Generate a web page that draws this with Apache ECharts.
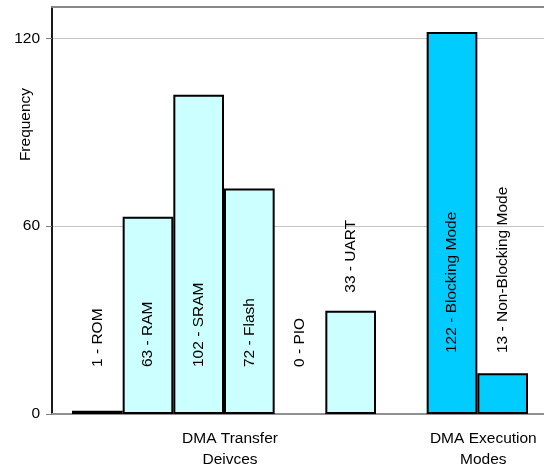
<!DOCTYPE html>
<html>
<head>
<meta charset="utf-8">
<script src="https://cdn.jsdelivr.net/npm/echarts@6/dist/echarts.min.js"></script>
<style>
  html, body { margin: 0; background: #fff; }
  #main { width: 544px; height: 466px; }
</style>
</head>
<body>
<div id="main"></div>
<script>
const transferDevices = ['ROM', 'RAM', 'SRAM', 'Flash', 'PIO', 'UART'];
const transferCounts = [1, 63, 102, 72, 0, 33];
const executionModes = ['Blocking Mode', 'Non-Blocking Mode'];
const executionCounts = [122, 13];
const groupNames = ['DMA Transfer\nDeivces', 'DMA Execution\nModes'];
const yTicks = [0, 60, 120];

const font = '"Liberation Sans", Arial, sans-serif';
const fontSize = 15.5;
const yMax = 130;
const pxPerUnit = 407 / yMax;

// one empty slot between the two groups
const slots = transferDevices.concat([''], executionModes);
const executionStart = transferDevices.length + 1;
const groupCenters = [
  (transferDevices.length - 1) / 2,
  executionStart + (executionModes.length - 1) / 2
];

function labelFor(value, base) {
  const h = value * pxPerUnit;
  if (h > base + 70 || h < base - 20) {
    return { position: 'insideBottom', distance: base };
  }
  return { position: 'top', distance: 18 };
}

function makeData(counts, start, base) {
  return slots.map((s, i) => {
    const k = i - start;
    if (k < 0 || k >= counts.length) return '-';
    const item = { value: counts[k], label: labelFor(counts[k], base) };
    // a zero bar has no outline
    if (counts[k] === 0) item.itemStyle = { borderWidth: 0 };
    return item;
  });
}

function barSeries(data, color) {
  return {
    type: 'bar',
    xAxisIndex: 2,
    yAxisIndex: 1,
    data: data,
    barCategoryGap: 0,
    barGap: '-100%',
    itemStyle: { color: color, borderColor: '#000', borderWidth: 2 },
    label: {
      show: true,
      rotate: 90,
      align: 'left',
      verticalAlign: 'middle',
      color: '#000',
      fontFamily: font,
      fontSize: fontSize,
      formatter: p => p.value + ' - ' + p.name
    }
  };
}

const textStyle = { color: '#000', fontFamily: font, fontSize: fontSize };
const hidden = { axisLine: { show: false }, axisTick: { show: false }, axisLabel: { show: false }, splitLine: { show: false } };

const option = {
  animation: false,
  grid: [
    { left: 52, right: 0, top: 7, bottom: 52, outerBoundsMode: 'none' },
    { left: 72, right: 16, top: 7, bottom: 52, outerBoundsMode: 'none' }
  ],
  xAxis: [{
    // frame: bottom line
    type: 'value', gridIndex: 0, min: 0, max: 1, position: 'bottom',
    ...hidden,
    axisLine: { show: true, onZero: false, lineStyle: { color: '#909090', width: 2 } }
  }, {
    // frame: top line
    type: 'value', gridIndex: 0, min: 0, max: 1, position: 'top',
    ...hidden,
    axisLine: { show: true, onZero: false, lineStyle: { color: '#888', width: 2 } }
  }, {
    // bars
    type: 'category', gridIndex: 1, data: slots, position: 'bottom',
    ...hidden
  }, {
    // group labels
    type: 'value', gridIndex: 1, min: -0.5, max: slots.length - 0.5, position: 'bottom',
    ...hidden,
    axisLabel: {
      show: true,
      customValues: groupCenters,
      formatter: v => groupNames[groupCenters.indexOf(v)],
      ...textStyle,
      lineHeight: 21,
      margin: 14,
      padding: [0, 0, 0, 12]
    }
  }],
  yAxis: [{
    type: 'value', gridIndex: 0,
    min: 0, max: yMax, interval: 60,
    name: 'Frequency',
    nameLocation: 'middle',
    nameGap: 18,
    nameMoveOverlap: false,
    nameTextStyle: { ...textStyle, padding: [0, 0, 0, 172] },
    axisLine: { show: true, onZero: false, lineStyle: { color: '#1a1a1a', width: 2 } },
    axisTick: { show: true, length: 6, customValues: yTicks, lineStyle: { color: '#808080' } },
    axisLabel: { customValues: yTicks, margin: 12, ...textStyle },
    splitLine: { show: true, lineStyle: { color: '#c4c4c4', width: 1 } }
  }, {
    type: 'value', gridIndex: 1, min: 0, max: yMax,
    ...hidden
  }],
  series: [
    barSeries(makeData(transferCounts, 0, 47), '#CCFFFF'),
    barSeries(makeData(executionCounts, executionStart, 61), '#00CCFF')
  ]
};

const chart = echarts.init(document.getElementById('main'));
chart.setOption(option);
</script>
</body>
</html>
